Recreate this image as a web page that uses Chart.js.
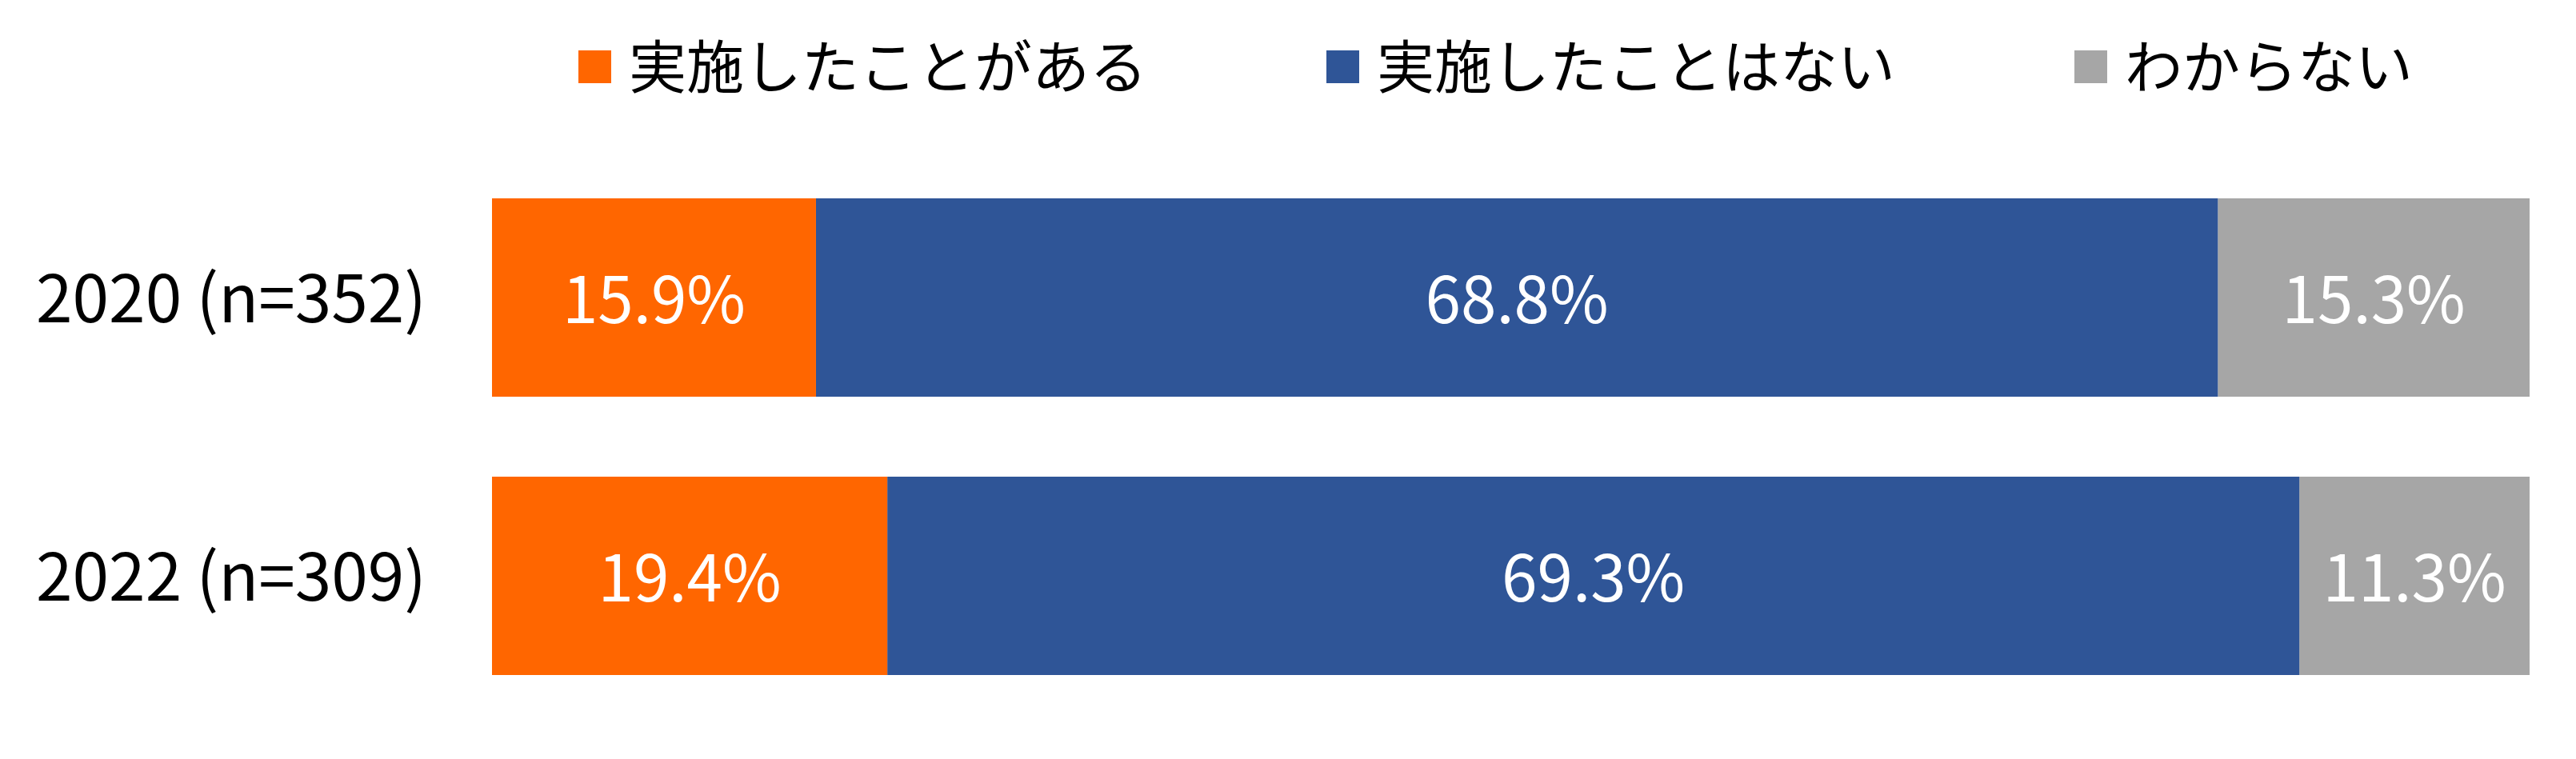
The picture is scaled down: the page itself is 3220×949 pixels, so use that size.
<!DOCTYPE html>
<html lang="ja">
<head>
<meta charset="utf-8">
<title>実施状況</title>
<script src="https://cdn.jsdelivr.net/npm/chart.js@4/dist/chart.umd.min.js"></script>
<style>
  html, body { margin: 0; padding: 0; background: #fff; }
  #wrap { position: relative; width: 3220px; height: 949px; }
  #legend {
    position: absolute; left: 723px; top: 34px;
    display: flex; gap: 224px; align-items: center;
    font-family: "Noto Sans CJK JP", "Noto Sans", sans-serif;
    font-size: 72px; line-height: 90px; color: #000;
  }
  #legend .item { display: flex; align-items: center; }
  #legend .box { width: 41px; height: 41px; margin-right: 22px; margin-top: 8px; }
</style>
</head>
<body>
<div id="wrap">
  <canvas id="chart" width="3220" height="949"></canvas>
  <div id="legend"></div>
</div>
<script>
// Survey result: share of respondents by answer, 2020 vs 2022 (stacked to 100%).

const FONT = '"Noto Sans CJK JP", "Noto Sans", sans-serif';
Chart.defaults.font.family = FONT;
Chart.defaults.color = "#000";

const years = ["2020 (n=352)", "2022 (n=309)"];
const answers = ["実施したことがある", "実施したことはない", "わからない"];
const done = [15.9, 19.4];
const notDone = [68.8, 69.3];
const unknown = [15.3, 11.3];
const colors = ["#FF6600", "#2F5597", "#A6A6A6"];

// white percentages centred in each segment
const valueLabels = {
  id: "valueLabels",
  afterDatasetsDraw(chart) {
    const ctx = chart.ctx;
    ctx.save();
    ctx.fillStyle = "#fff";
    ctx.font = `80px ${FONT}`;
    ctx.textAlign = "center";
    ctx.textBaseline = "middle";
    chart.data.datasets.forEach((ds, i) => {
      chart.getDatasetMeta(i).data.forEach((bar, j) => {
        const { x, y, base } = bar.getProps(["x", "y", "base"], true);
        ctx.fillText(ds.data[j].toFixed(1) + "%", (x + base) / 2, y + 2);
      });
    });
    ctx.restore();
  },
};

const chart = new Chart(document.getElementById("chart"), {
  type: "bar",
  data: {
    labels: years,
    datasets: [done, notDone, unknown].map((data, i) => ({
      label: answers[i],
      data,
      backgroundColor: colors[i],
      borderWidth: 0,
      categoryPercentage: 1,
      barPercentage: 0.7126,
    })),
  },
  options: {
    indexAxis: "y",
    responsive: false,
    animation: false,
    devicePixelRatio: 1,
    layout: { padding: { left: 0, right: 58, top: 198, bottom: 55 } },
    plugins: { legend: { display: false }, tooltip: { enabled: false } },
    scales: {
      x: { stacked: true, min: 0, max: 100, display: false },
      y: {
        stacked: true,
        grid: { display: false, drawTicks: false },
        border: { display: false },
        ticks: { color: "#000", font: { size: 82 }, padding: 82 },
        afterFit(axis) {
          axis.width = 615;
          // tick padding would otherwise eat into the bottom of the plot
          axis.paddingTop = 0;
          axis.paddingBottom = 0;
        },
      },
    },
  },
  plugins: [valueLabels],
});

document.getElementById("legend").innerHTML = chart.data.datasets.map(ds =>
  `<div class="item"><span class="box" style="background:${ds.backgroundColor}"></span><span>${ds.label}</span></div>`
).join("");
</script>
</body>
</html>
